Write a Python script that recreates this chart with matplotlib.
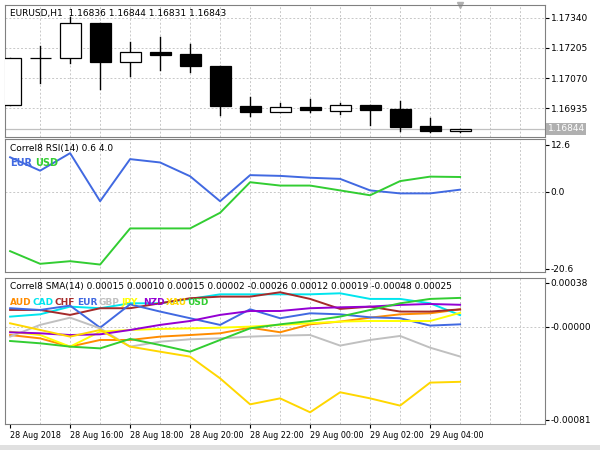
import matplotlib
matplotlib.use("Agg")
import matplotlib.pyplot as plt
from matplotlib.patches import Rectangle

plt.rcParams['font.family'] = ['DejaVu Sans']

opens  = [1.16950, 1.17160, 1.17160, 1.17315, 1.17142, 1.17186, 1.17177, 1.17124, 1.16946, 1.16919, 1.16941, 1.16923, 1.16950, 1.16932, 1.16857, 1.16836]
highs  = [1.17160, 1.17213, 1.17342, 1.17315, 1.17231, 1.17253, 1.17222, 1.17124, 1.16986, 1.16959, 1.16977, 1.16959, 1.16950, 1.16968, 1.16892, 1.16844]
lows   = [1.16950, 1.17048, 1.17137, 1.17021, 1.17080, 1.17106, 1.17097, 1.16906, 1.16901, 1.16919, 1.16919, 1.16910, 1.16861, 1.16834, 1.16830, 1.16831]
closes = [1.17160, 1.17160, 1.17315, 1.17142, 1.17186, 1.17173, 1.17124, 1.16946, 1.16919, 1.16941, 1.16928, 1.16950, 1.16928, 1.16852, 1.16834, 1.16843]
bid_price = 1.16844

rsi_eur = [9.3, 5.7, 10.4, -2.5, 8.8, 7.9, 4.2, -2.5, 4.5, 4.3, 3.8, 3.5, 0.4, -0.4, -0.4, 0.6]
rsi_usd = [-15.9, -19.3, -18.6, -19.5, -9.8, -9.8, -9.8, -5.6, 2.6, 1.7, 1.7, 0.4, -0.9, 2.9, 4.1, 4.0]

# SMA values in units of 1e-5
sma = {
 'AUD': [-7.3, -10.2, -17.4, -11.6, -11.6, -8.7, -7.3, -5.8, -0.9, -4.9, 2.0, 4.4, 7.8, 10.7, 11.6, 15.0],
 'CAD': [8.7, 10.7, 17.4, 16.0, 20.3, 20.3, 24.1, 28.1, 28.1, 28.1, 28.1, 29.0, 24.1, 24.1, 20.3, 10.0],
 'CHF': [14.5, 14.5, 10.2, 16.0, 16.0, 20.3, 24.7, 26.1, 26.1, 29.9, 24.1, 15.4, 17.4, 13.1, 13.1, 15.0],
 'EUR': [16.0, 14.5, 18.3, -0.9, 19.4, 13.1, 7.3, 1.5, 15.1, 7.3, 11.6, 10.7, 8.1, 7.3, 0.9, 2.0],
 'GBP': [-8.7, 1.5, 7.8, -1.5, -17.4, -13.1, -11.0, -10.2, -8.7, -7.8, -7.3, -16.5, -11.6, -8.1, -18.3, -26.0],
 'JPY': [-4.4, -7.3, -17.4, -4.4, -2.9, -2.0, -1.5, -0.9, 0.0, 1.5, 2.9, 4.4, 4.9, 4.9, 4.9, 12.0],
 'NZD': [-4.9, -5.8, -7.3, -6.7, -2.9, 1.5, 4.9, 10.2, 13.6, 13.6, 16.0, 16.8, 17.4, 18.9, 19.7, 19.0],
 'XAU': [2.9, -2.9, -8.7, -2.9, -17.4, -21.8, -26.1, -45.0, -67.6, -62.4, -74.5, -57.1, -62.4, -68.7, -48.7, -48.0],
 'USD': [-12.5, -14.5, -17.4, -18.9, -10.7, -16.0, -21.8, -11.6, -1.5, 2.0, 4.9, 8.7, 14.5, 20.3, 24.1, 25.0],
}
sma_title = ['0.00015', '0.00010', '0.00015', '0.00002', '-0.00026', '0.00012', '0.00019', '-0.00048', '0.00025']
colors = {'AUD': '#FF8C00', 'CAD': '#00E5EE', 'CHF': '#A52A2A', 'EUR': '#4169E1', 'GBP': '#C0C0C0',
          'JPY': '#FFFF00', 'NZD': '#9400D3', 'XAU': '#FFD700', 'USD': '#32CD32'}
xlabels = ['28 Aug 2018', '28 Aug 16:00', '28 Aug 18:00', '28 Aug 20:00', '28 Aug 22:00',
           '29 Aug 00:00', '29 Aug 02:00', '29 Aug 04:00']
price_ticks = [1.17340, 1.17205, 1.17070, 1.16935]

W, H = 600, 450
fig = plt.figure(figsize=(6, 4.5), dpi=100)
fig.patch.set_facecolor('white')

def axes_px(x0, y0, x1, y1):
    return fig.add_axes([x0 / W, 1 - y1 / H, (x1 - x0) / W, (y1 - y0) / H])

n = len(opens)
xs = list(range(n))
XL = (-0.17, 17.83)
FS = 6.5

def style(ax):
    ax.set_xlim(*XL)
    ax.yaxis.tick_right()
    ax.tick_params(axis='y', labelsize=FS, length=3, pad=1, direction='out')
    ax.tick_params(axis='x', bottom=False, labelbottom=False)
    for s in ax.spines.values():
        s.set_color('#808080'); s.set_linewidth(0.8)
    for x in range(1, 18):
        ax.axvline(x, color='#C8C8C8', ls=(0, (2, 2)), lw=0.7, zorder=0)

# Panel 1: candles
ax1 = axes_px(5, 5, 545, 137)
style(ax1)
ax1.set_ylim(1.16808, 1.17396)
ax1.set_yticks(price_ticks)
ax1.set_yticklabels([f'{p:.5f}' for p in price_ticks])
for p in price_ticks:
    ax1.axhline(p, color='#C8C8C8', ls=(0, (2, 2)), lw=0.7, zorder=0)
for i in xs:
    o, h, l, c = opens[i], highs[i], lows[i], closes[i]
    ax1.plot([i, i], [l, h], color='black', lw=1, zorder=2)
    bot, top = min(o, c), max(o, c)
    hgt = max(top - bot, 0.00002)
    ax1.add_patch(Rectangle((i - 0.35, bot), 0.7, hgt, facecolor='white' if c >= o else 'black',
                            edgecolor='black', lw=0.9, zorder=3))
ax1.axhline(bid_price, color='#C0C0C0', lw=0.9, zorder=1)
ax1.text(1.005, bid_price, f'{bid_price:.5f}', transform=ax1.get_yaxis_transform(), fontsize=FS,
         va='center', ha='left', color='white', bbox=dict(facecolor='#B0B0B0', edgecolor='none', pad=1))
ax1.plot([15], [1.17396], marker='v', color='#B0B0B0', ms=4, clip_on=False)
ax1.text(0.01, 0.97, 'EURUSD,H1  1.16836 1.16844 1.16831 1.16843', transform=ax1.transAxes,
         fontsize=FS, va='top', ha='left')

# Panel 2: RSI
ax2 = axes_px(5, 139, 545, 272)
style(ax2)
ax2.set_ylim(-21.5, 14.2)
ax2.set_yticks([12.6, 0.0, -20.6])
ax2.set_yticklabels(['12.6', '0.0', '-20.6'])
ax2.axhline(0, color='#C8C8C8', ls=(0, (2, 2)), lw=0.7, zorder=0)
ax2.plot(xs, rsi_eur, color='#4169E1', lw=1.4)
ax2.plot(xs, rsi_usd, color='#32CD32', lw=1.4)
ax2.text(0.01, 0.96, f'Correl8 RSI(14) {rsi_eur[-1]} {rsi_usd[-1]}', transform=ax2.transAxes, fontsize=FS, va='top')
ax2.text(0.01, 0.86, 'EUR', transform=ax2.transAxes, fontsize=7, va='top', color='#4169E1', fontweight='bold')
ax2.text(0.055, 0.86, 'USD', transform=ax2.transAxes, fontsize=7, va='top', color='#32CD32', fontweight='bold')

# Panel 3: SMA
ax3 = axes_px(5, 278, 545, 424)
style(ax3)
ax3.set_ylim(-84.7, 42.3)
ax3.set_yticks([38, 0, -81])
ax3.set_yticklabels(['0.00038', '-0.00000', '-0.00081'])
ax3.axhline(0, color='#C8C8C8', ls=(0, (2, 2)), lw=0.7, zorder=0)
for name, vals in sma.items():
    ax3.plot(xs, vals, color=colors[name], lw=1.4)
ax3.text(0.01, 0.97, 'Correl8 SMA(14) ' + ' '.join(sma_title), transform=ax3.transAxes, fontsize=FS, va='top')
for k, name in enumerate(sma):
    ax3.text(0.01 + k * 0.041, 0.86, name, transform=ax3.transAxes, fontsize=6.5, va='top',
             color=colors[name], fontweight='bold')
ax3.set_xticks(xs[::2])
ax3.set_xticklabels(xlabels, fontsize=5.8, ha='left')
ax3.tick_params(axis='x', bottom=True, labelbottom=True, length=3, pad=2)

fig.add_artist(Rectangle((0, 0), 1, 5 / H, transform=fig.transFigure, facecolor='#E0E0E0', edgecolor='none'))
fig.savefig('out.png', dpi=100)
